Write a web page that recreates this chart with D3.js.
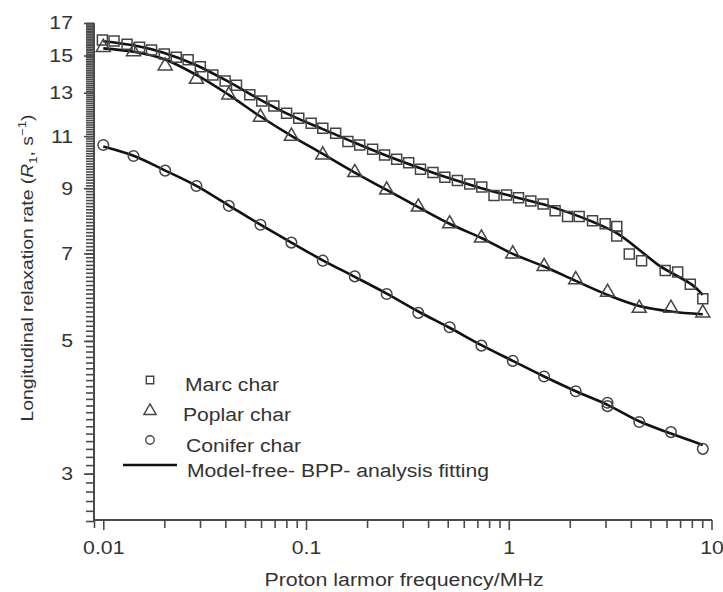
<!DOCTYPE html>
<html>
<head>
<meta charset="utf-8">
<script src="https://cdn.jsdelivr.net/npm/d3@7"></script>
<style>
    body { margin: 0; background: #fff; }
    svg text { font-family: "Liberation Sans", Arial, sans-serif; fill: #333; }
</style>
</head>
<body>
<div class="chart"></div>
<script>
// measured points (frequency in MHz, R1 in s^-1)
const marcFreq = [0.0099, 0.0113, 0.0131, 0.0151, 0.0173, 0.0200, 0.0229, 0.0262, 0.0301, 0.0347,
    0.0399, 0.0454, 0.0528, 0.0605, 0.0694, 0.0802, 0.0921, 0.106, 0.121, 0.140,
    0.161, 0.184, 0.213, 0.244, 0.280, 0.321, 0.367, 0.423, 0.484, 0.558,
    0.642, 0.736, 0.846, 0.975, 1.117, 1.285, 1.477, 1.693, 1.950, 2.225,
    2.59, 2.99, 3.41, 3.41, 3.93, 4.52, 5.91, 6.81, 7.86, 9.06];
const marcR1 = [15.92, 15.86, 15.66, 15.48, 15.32, 15.09, 14.90, 14.76, 14.37, 13.92,
    13.60, 13.38, 12.90, 12.59, 12.35, 12.01, 11.78, 11.56, 11.34, 11.12,
    10.77, 10.63, 10.46, 10.23, 10.06, 9.93, 9.68, 9.56, 9.39, 9.27,
    9.15, 9.04, 8.75, 8.77, 8.68, 8.57, 8.47, 8.25, 8.07, 8.07,
    7.94, 7.85, 7.77, 7.49, 6.99, 6.81, 6.56, 6.52, 6.22, 5.88];

const poplarFreq = [0.0100, 0.0141, 0.0202, 0.0288, 0.0416, 0.0596, 0.0847, 0.121, 0.174, 0.250,
    0.358, 0.511, 0.733, 1.047, 1.494, 2.14, 3.07, 4.40, 6.31, 9.06];
const poplarR1 = [15.48, 15.22, 14.41, 13.69, 12.89, 11.83, 11.00, 10.23, 9.56, 8.94,
    8.37, 7.85, 7.43, 6.99, 6.66, 6.33, 6.03, 5.67, 5.67, 5.57];

const coniferFreq = [0.0100, 0.0141, 0.0202, 0.0288, 0.0416, 0.0596, 0.0847, 0.121, 0.174, 0.250,
    0.358, 0.511, 0.733, 1.047, 1.494, 2.14, 3.07, 3.07, 4.40, 6.31, 9.06];
const coniferR1 = [10.63, 10.19, 9.63, 9.08, 8.41, 7.82, 7.30, 6.81, 6.41, 5.99,
    5.57, 5.27, 4.91, 4.63, 4.36, 4.12, 3.94, 3.89, 3.66, 3.52, 3.30];

// model-free BPP fits
const marcFitFreq = [0.0100, 0.0141, 0.0200, 0.0288, 0.0416, 0.0596, 0.0847, 0.121, 0.174, 0.250,
    0.358, 0.511, 0.733, 1.047, 1.494, 1.81, 2.59, 3.41, 4.52, 5.6, 8.0, 9.06];
const marcFitR1 = [15.85, 15.6, 15.15, 14.45, 13.55, 12.65, 11.9, 11.3, 10.72, 10.2,
    9.75, 9.35, 9.0, 8.72, 8.45, 8.28, 7.91, 7.57, 7.05, 6.66, 6.21, 5.97];
const fitFreq = [0.0100, 0.0141, 0.0200, 0.0288, 0.0416, 0.0596, 0.0847, 0.121, 0.174, 0.250,
    0.358, 0.511, 0.733, 1.047, 1.494, 2.14, 3.07, 4.40, 6.31, 9.06];
const poplarFitR1 = [15.42, 15.22, 14.79, 13.92, 12.89, 11.86, 11.01, 10.27, 9.56, 8.94,
    8.37, 7.85, 7.43, 6.99, 6.66, 6.30, 5.97, 5.72, 5.60, 5.54];
const coniferFitR1 = [10.57, 10.2, 9.65, 9.08, 8.42, 7.82, 7.30, 6.82, 6.40, 6.00,
    5.60, 5.26, 4.92, 4.63, 4.36, 4.12, 3.91, 3.67, 3.50, 3.35];

const yTickLabels = [3, 5, 7, 9, 11, 13, 15, 17];
const xTickLabels = [0.01, 0.1, 1, 10];
const legendLabels = ["Marc char", "Poplar char", "Conifer char", "Model-free- BPP- analysis fitting"];

const width = 723;
const height = 592;
const stretch = 1.15;   // the figure's lettering is wider than Arial
const axisColor = "#4a4a4a";
const markColor = "#444";

const svg = d3.select('.chart')
    .append('svg')
    .attr('width', width)
    .attr('height', height)

const x = d3.scaleLog().domain([0.009, 10]).range([94, 711.5]);
const y = d3.scaleLog().domain([2.5, 17]).range([521, 23]);

function zip(fs, vs) {
    return fs.map((f, i) => ({ f: f, v: vs[i] }));
}

// y axis: minor ticks every 0.1, labels on odd numbers
let yMinor = d3.range(25, 171).map(v => v / 10);
svg.append("g")
    .attr("transform", "translate(94,0)")
    .call(d3.axisLeft(y).tickValues(yMinor).tickSize(8).tickFormat(""))
    .call(g => g.select(".domain").remove());
let yAxis = svg.append("g")
    .attr("transform", "translate(94,0)")
    .call(d3.axisLeft(y).tickValues(yTickLabels).tickSize(10).tickFormat(d3.format("d")));
yAxis.select(".domain").remove();

// x axis
let xMinor = [0.009];
[0.01, 0.1, 1].forEach(dec => {
    for (let k = 2; k <= 9; k++) xMinor.push(dec * k);
});
svg.append("g")
    .attr("transform", "translate(0,520)")
    .call(d3.axisBottom(x).tickValues(xMinor).tickSize(8).tickFormat(""))
    .call(g => g.select(".domain").remove());
let xAxis = svg.append("g")
    .attr("transform", "translate(0,520)")
    .call(d3.axisBottom(x).tickValues(xTickLabels).tickSize(10).tickPadding(11).tickFormat(d => d));
xAxis.select(".domain").remove();

svg.selectAll(".tick line").attr("stroke", axisColor).attr("stroke-width", 1.6);
svg.selectAll(".tick text")
    .attr("font-size", "18.5px")
    .attr("fill", "#333")
    .style("font-family", "Liberation Sans, Arial, sans-serif");
yAxis.selectAll(".tick text").attr("transform", "scale(" + stretch + ",1)").attr("x", -21 / stretch);
xAxis.selectAll(".tick text").attr("transform", "scale(" + stretch + ",1)");

// axis lines
svg.append("line").attr("x1", 94).attr("x2", 94).attr("y1", 23).attr("y2", 521)
    .attr("stroke", axisColor).attr("stroke-width", 2);
svg.append("line").attr("x1", 93).attr("x2", 712).attr("y1", 520).attr("y2", 520)
    .attr("stroke", axisColor).attr("stroke-width", 2);

// axis titles
svg.append("text")
    .attr("transform", "translate(404,586) scale(" + stretch + ",1)")
    .attr("text-anchor", "middle")
    .attr("font-size", "18.6px")
    .text("Proton larmor frequency/MHz");

let yTitle = svg.append("text")
    .attr("transform", "translate(33,268) rotate(-90) scale(" + stretch + ",1)")
    .attr("text-anchor", "middle")
    .attr("font-size", "16.8px");
yTitle.append("tspan").text("Longitudinal relaxation rate (");
yTitle.append("tspan").attr("font-style", "italic").text("R");
yTitle.append("tspan").attr("font-size", "11.5px").attr("dy", 4).text("1");
yTitle.append("tspan").attr("dy", -4).text(", s");
yTitle.append("tspan").attr("font-size", "11.5px").attr("dy", -7).text("\u22121");
yTitle.append("tspan").attr("dy", 7).text(")");

// fit lines
const line = d3.line()
    .x(d => x(d.f))
    .y(d => y(d.v))
    .curve(d3.curveCatmullRom.alpha(0.5));

[zip(marcFitFreq, marcFitR1), zip(fitFreq, poplarFitR1), zip(fitFreq, coniferFitR1)].forEach(fit => {
    svg.append("path")
        .datum(fit)
        .attr("d", line)
        .attr("fill", "none")
        .attr("stroke", "#111")
        .attr("stroke-width", 2.6);
});

// markers
const squareSym = d3.symbol().type(d3.symbolSquare).size(100);
const triSym = d3.symbol().type(d3.symbolTriangle).size(85);
const circleSym = d3.symbol().type(d3.symbolCircle).size(88);

function drawMarks(data, sym) {
    svg.append("g")
        .selectAll("path")
        .data(data)
        .enter()
        .append("path")
        .attr("d", sym)
        .attr("transform", d => "translate(" + x(d.f) + "," + y(d.v) + ")")
        .attr("fill", "none")
        .attr("stroke", markColor)
        .attr("stroke-width", 1.5);
}

drawMarks(zip(marcFreq, marcR1), squareSym);
drawMarks(zip(poplarFreq, poplarR1), triSym);
drawMarks(zip(coniferFreq, coniferR1), circleSym);

// legend
let legend = svg.append("g");
const legendSyms = [
    d3.symbol().type(d3.symbolSquare).size(55),
    d3.symbol().type(d3.symbolTriangle).size(65),
    d3.symbol().type(d3.symbolCircle).size(55)
];
const legendY = [380, 411, 440];
const legendTextY = [391, 421, 452, 477];
const legendTextX = [185, 183, 186, 187];

legendSyms.forEach((s, i) => {
    legend.append("path")
        .attr("d", s)
        .attr("transform", "translate(150," + legendY[i] + ")")
        .attr("fill", "none")
        .attr("stroke", markColor)
        .attr("stroke-width", 1.4);
});
legend.append("line")
    .attr("x1", 123).attr("x2", 177).attr("y1", 465).attr("y2", 465)
    .attr("stroke", "#111").attr("stroke-width", 2.6);

legend.selectAll("text")
    .data(legendLabels)
    .enter()
    .append("text")
    .attr("transform", (d, i) => "translate(" + legendTextX[i] + "," + legendTextY[i] + ") scale(" + stretch + ",1)")
    .attr("font-size", "18.4px")
    .text(d => d);
</script>
</body>
</html>
